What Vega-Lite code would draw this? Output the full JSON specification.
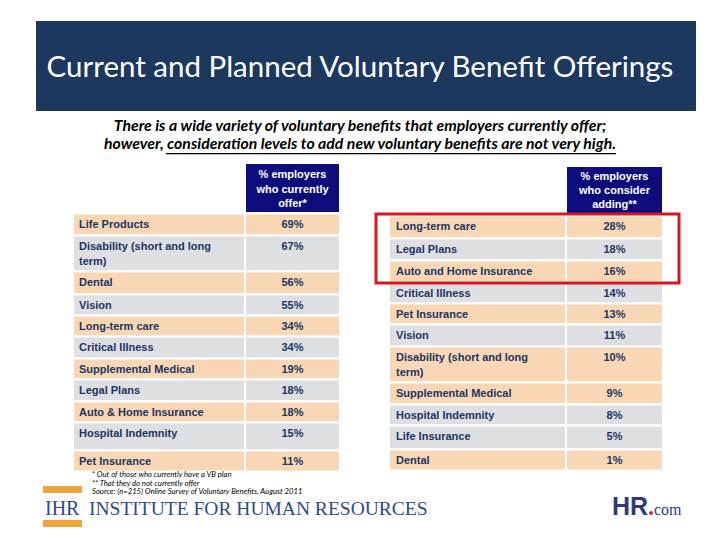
{
  "$schema": "https://vega.github.io/schema/vega-lite/v6.json",
  "width": 720,
  "height": 540,
  "padding": 0,
  "autosize": {"type": "fit", "contains": "padding"},
  "background": "white",
  "config": {"view": {"stroke": null}},
  "datasets": {
    "current": [
      {"rank": 1, "benefit": "Life Products", "pct": 0.69, "shade": "A"},
      {"rank": 2, "benefit": "Disability (short and long\nterm)", "pct": 0.67, "shade": "B"},
      {"rank": 3, "benefit": "Dental", "pct": 0.56, "shade": "A"},
      {"rank": 4, "benefit": "Vision", "pct": 0.55, "shade": "B"},
      {"rank": 5, "benefit": "Long-term care", "pct": 0.34, "shade": "A"},
      {"rank": 6, "benefit": "Critical Illness", "pct": 0.34, "shade": "B"},
      {"rank": 7, "benefit": "Supplemental Medical", "pct": 0.19, "shade": "A"},
      {"rank": 8, "benefit": "Legal Plans", "pct": 0.18, "shade": "B"},
      {"rank": 9, "benefit": "Auto & Home Insurance", "pct": 0.18, "shade": "A"},
      {"rank": 10, "benefit": "Hospital Indemnity", "pct": 0.15, "shade": "B"},
      {"rank": 11, "benefit": "Pet Insurance", "pct": 0.11, "shade": "A"}
    ],
    "consider": [
      {"rank": 1, "benefit": "Long-term care", "pct": 0.28, "shade": "A"},
      {"rank": 2, "benefit": "Legal Plans", "pct": 0.18, "shade": "B"},
      {"rank": 3, "benefit": "Auto and Home Insurance", "pct": 0.16, "shade": "A"},
      {"rank": 4, "benefit": "Critical Illness", "pct": 0.14, "shade": "B"},
      {"rank": 5, "benefit": "Pet Insurance", "pct": 0.13, "shade": "A"},
      {"rank": 6, "benefit": "Vision", "pct": 0.11, "shade": "B"},
      {"rank": 7, "benefit": "Disability (short and long\nterm)", "pct": 0.10, "shade": "A"},
      {"rank": 8, "benefit": "Supplemental Medical", "pct": 0.09, "shade": "A"},
      {"rank": 9, "benefit": "Hospital Indemnity", "pct": 0.08, "shade": "B"},
      {"rank": 10, "benefit": "Life Insurance", "pct": 0.05, "shade": "B"},
      {"rank": 11, "benefit": "Dental", "pct": 0.01, "shade": "A"}
    ]
  },
  "layer": [
    {
      "data": {"name": "current"},
      "layer": [
        {
          "mark": {"type": "rect", "stroke": "white", "strokeWidth": 2},
          "encoding": {
            "x": {"datum": 0, "type": "quantitative", "scale": {"domain": [0, 1, 2], "range": [73, 245, 340], "nice": false, "zero": false}, "axis": null},
            "x2": {"datum": 1},
            "y": {"field": "rank", "type": "quantitative", "bin": {"step": 1, "extent": [1, 12], "nice": false}, "scale": {"domain": [0, 1, 2, 3, 4, 5, 6, 7, 8, 9, 10, 11, 12], "range": [163, 213, 235, 271, 294, 315, 336, 358, 379, 401, 422, 450, 471], "nice": false, "zero": false}, "axis": null},
            "color": {"field": "shade", "type": "nominal", "scale": {"domain": ["A", "B"], "range": ["#f9d7b4", "#dedfe3"]}, "legend": null}
          }
        },
        {
          "mark": {"type": "rect", "stroke": "white", "strokeWidth": 2},
          "encoding": {
            "x": {"datum": 1, "type": "quantitative"},
            "x2": {"datum": 2},
            "y": {"field": "rank", "type": "quantitative", "bin": {"step": 1, "extent": [1, 12], "nice": false}},
            "color": {"field": "shade", "type": "nominal", "legend": null}
          }
        },
        {
          "mark": {"type": "text", "align": "left", "baseline": "top", "dx": 6, "dy": 6, "font": "Liberation Sans", "fontWeight": "bold", "fontSize": 11, "lineBreak": "\n", "lineHeight": 15, "color": "#1b3563"},
          "encoding": {
            "x": {"datum": 0, "type": "quantitative"},
            "y": {"field": "rank", "type": "quantitative"},
            "text": {"field": "benefit", "type": "nominal"}
          }
        },
        {
          "mark": {"type": "text", "align": "center", "baseline": "top", "dy": 6, "font": "Liberation Sans", "fontWeight": "bold", "fontSize": 11, "color": "#1b3563"},
          "encoding": {
            "x": {"datum": 1.5, "type": "quantitative"},
            "y": {"field": "rank", "type": "quantitative"},
            "text": {"field": "pct", "type": "quantitative", "format": ".0%"}
          }
        },
        {
          "data": {"values": [{"header": "% employers\nwho currently\noffer*"}]},
          "layer": [
            {
              "mark": {"type": "rect", "stroke": "white", "strokeWidth": 2, "color": "#0c0c7c"},
              "encoding": {
                "x": {"datum": 1, "type": "quantitative"},
                "x2": {"datum": 2},
                "y": {"datum": 0, "type": "quantitative"},
                "y2": {"datum": 1}
              }
            },
            {
              "mark": {"type": "text", "align": "center", "baseline": "top", "dy": 6, "font": "Liberation Sans", "fontWeight": "bold", "fontSize": 11, "lineBreak": "\n", "lineHeight": 14.5, "color": "white"},
              "encoding": {
                "x": {"datum": 1.5, "type": "quantitative"},
                "y": {"datum": 0, "type": "quantitative"},
                "text": {"field": "header", "type": "nominal"}
              }
            }
          ]
        }
      ]
    },
    {
      "data": {"name": "consider"},
      "layer": [
        {
          "mark": {"type": "rect", "stroke": "white", "strokeWidth": 2},
          "encoding": {
            "x": {"datum": 0, "type": "quantitative", "scale": {"domain": [0, 1, 2], "range": [389, 566, 663], "nice": false, "zero": false}, "axis": null},
            "x2": {"datum": 1},
            "y": {"field": "rank", "type": "quantitative", "bin": {"step": 1, "extent": [1, 12], "nice": false}, "scale": {"domain": [0, 1, 2, 3, 4, 5, 6, 7, 8, 9, 10, 11, 12], "range": [166, 215, 238, 260, 282, 303, 324, 346, 382, 404, 425, 449, 470], "nice": false, "zero": false}, "axis": null},
            "color": {"field": "shade", "type": "nominal", "scale": {"domain": ["A", "B"], "range": ["#f9d7b4", "#dedfe3"]}, "legend": null}
          }
        },
        {
          "mark": {"type": "rect", "stroke": "white", "strokeWidth": 2},
          "encoding": {
            "x": {"datum": 1, "type": "quantitative"},
            "x2": {"datum": 2},
            "y": {"field": "rank", "type": "quantitative", "bin": {"step": 1, "extent": [1, 12], "nice": false}},
            "color": {"field": "shade", "type": "nominal", "legend": null}
          }
        },
        {
          "mark": {"type": "text", "align": "left", "baseline": "top", "dx": 7, "dy": 6, "font": "Liberation Sans", "fontWeight": "bold", "fontSize": 11, "lineBreak": "\n", "lineHeight": 15, "color": "#1b3563"},
          "encoding": {
            "x": {"datum": 0, "type": "quantitative"},
            "y": {"field": "rank", "type": "quantitative"},
            "text": {"field": "benefit", "type": "nominal"}
          }
        },
        {
          "mark": {"type": "text", "align": "center", "baseline": "top", "dy": 6, "font": "Liberation Sans", "fontWeight": "bold", "fontSize": 11, "color": "#1b3563"},
          "encoding": {
            "x": {"datum": 1.5, "type": "quantitative"},
            "y": {"field": "rank", "type": "quantitative"},
            "text": {"field": "pct", "type": "quantitative", "format": ".0%"}
          }
        },
        {
          "data": {"values": [{"header": "% employers\nwho consider\nadding**"}]},
          "layer": [
            {
              "mark": {"type": "rect", "stroke": "white", "strokeWidth": 2, "color": "#0c0c7c"},
              "encoding": {
                "x": {"datum": 1, "type": "quantitative"},
                "x2": {"datum": 2},
                "y": {"datum": 0, "type": "quantitative"},
                "y2": {"datum": 1}
              }
            },
            {
              "mark": {"type": "text", "align": "center", "baseline": "top", "dy": 5, "font": "Liberation Sans", "fontWeight": "bold", "fontSize": 11, "lineBreak": "\n", "lineHeight": 14, "color": "white"},
              "encoding": {
                "x": {"datum": 1.5, "type": "quantitative"},
                "y": {"datum": 0, "type": "quantitative"},
                "text": {"field": "header", "type": "nominal"}
              }
            }
          ]
        }
      ]
    },
    {
      "data": {"values": [{"title": "Current and Planned Voluntary Benefit Offerings", "subtitle": "There is a wide variety of voluntary benefits that employers currently offer;\nhowever, consideration levels to add new voluntary benefits are not very high.", "notes": "* Out of those who currently have a VB plan\n** That they do not currently offer\nSource:  (n=215) Online Survey of Voluntary Benefits, August 2011", "org": "INSTITUTE FOR HUMAN RESOURCES", "initials": "IHR", "hr": "HR", "com": "com"}]},
      "layer": [
        {
          "mark": {"type": "rect", "color": "#1c385f"},
          "encoding": {
            "x": {"datum": 36, "type": "quantitative", "scale": {"domain": [0, 720], "range": [0, 720], "nice": false, "zero": false}, "axis": null},
            "x2": {"datum": 696},
            "y": {"datum": 21, "type": "quantitative", "scale": {"domain": [0, 540], "range": [0, 540], "nice": false, "zero": false}, "axis": null},
            "y2": {"datum": 111}
          }
        },
        {
          "mark": {"type": "text", "align": "center", "baseline": "middle", "font": "Lato", "fontSize": 29.5, "color": "white"},
          "encoding": {
            "x": {"datum": 360, "type": "quantitative"},
            "y": {"datum": 68, "type": "quantitative"},
            "text": {"field": "title", "type": "nominal"}
          }
        },
        {
          "mark": {"type": "text", "align": "center", "baseline": "top", "font": "Lato", "fontStyle": "italic", "fontWeight": "bold", "fontSize": 15.8, "lineBreak": "\n", "lineHeight": 18, "color": "black"},
          "encoding": {
            "x": {"datum": 360, "type": "quantitative"},
            "y": {"datum": 119, "type": "quantitative"},
            "text": {"field": "subtitle", "type": "nominal"}
          }
        },
        {
          "mark": {"type": "rect", "color": "black"},
          "encoding": {
            "x": {"datum": 166, "type": "quantitative"},
            "x2": {"datum": 616},
            "y": {"datum": 153, "type": "quantitative"},
            "y2": {"datum": 154.2}
          }
        },
        {
          "mark": {"type": "text", "align": "left", "baseline": "top", "font": "Lato", "fontStyle": "italic", "fontSize": 7.7, "lineBreak": "\n", "lineHeight": 8.7, "color": "black"},
          "encoding": {
            "x": {"datum": 92, "type": "quantitative"},
            "y": {"datum": 471, "type": "quantitative"},
            "text": {"field": "notes", "type": "nominal"}
          }
        },
        {
          "mark": {"type": "rect", "color": "#f2a23a"},
          "encoding": {
            "x": {"datum": 43, "type": "quantitative"},
            "x2": {"datum": 82},
            "y": {"datum": 486, "type": "quantitative"},
            "y2": {"datum": 493}
          }
        },
        {
          "mark": {"type": "rect", "color": "#f2a23a"},
          "encoding": {
            "x": {"datum": 43, "type": "quantitative"},
            "x2": {"datum": 82},
            "y": {"datum": 520, "type": "quantitative"},
            "y2": {"datum": 527}
          }
        },
        {
          "mark": {"type": "text", "align": "left", "baseline": "alphabetic", "font": "Liberation Serif", "fontSize": 20, "color": "#2d4a8c"},
          "encoding": {
            "x": {"datum": 45, "type": "quantitative"},
            "y": {"datum": 515, "type": "quantitative"},
            "text": {"field": "initials", "type": "nominal"}
          }
        },
        {
          "mark": {"type": "text", "align": "left", "baseline": "alphabetic", "font": "Liberation Serif", "fontSize": 19.5, "color": "#2d4a8c"},
          "encoding": {
            "x": {"datum": 89, "type": "quantitative"},
            "y": {"datum": 515, "type": "quantitative"},
            "text": {"field": "org", "type": "nominal"}
          }
        },
        {
          "mark": {"type": "text", "align": "left", "baseline": "alphabetic", "font": "Liberation Sans", "fontWeight": "bold", "fontSize": 25, "color": "#2e3a80"},
          "encoding": {
            "x": {"datum": 612, "type": "quantitative"},
            "y": {"datum": 515, "type": "quantitative"},
            "text": {"field": "hr", "type": "nominal"}
          }
        },
        {
          "mark": {"type": "circle", "color": "#d8262e", "opacity": 1, "size": 16},
          "encoding": {
            "x": {"datum": 651, "type": "quantitative"},
            "y": {"datum": 513, "type": "quantitative"}
          }
        },
        {
          "mark": {"type": "text", "align": "left", "baseline": "alphabetic", "font": "Liberation Serif", "fontSize": 16, "color": "#2e3a80"},
          "encoding": {
            "x": {"datum": 654, "type": "quantitative"},
            "y": {"datum": 515, "type": "quantitative"},
            "text": {"field": "com", "type": "nominal"}
          }
        },
        {
          "mark": {"type": "rect", "fill": null, "stroke": "#d9161f", "strokeWidth": 3},
          "encoding": {
            "x": {"datum": 376, "type": "quantitative"},
            "x2": {"datum": 679},
            "y": {"datum": 214, "type": "quantitative"},
            "y2": {"datum": 283}
          }
        }
      ]
    }
  ],
  "resolve": {"scale": {"x": "independent", "y": "independent", "color": "independent"}}
}
